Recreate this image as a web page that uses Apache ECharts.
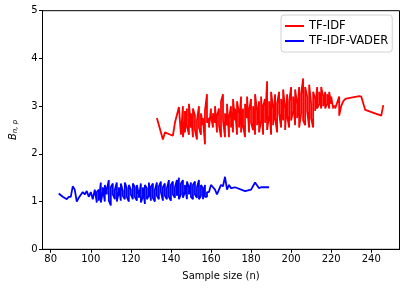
<!DOCTYPE html>
<html>
<head>
<meta charset="utf-8">
<script src="https://cdn.jsdelivr.net/npm/echarts@6/dist/echarts.min.js"></script>
<style>html,body{margin:0;padding:0;background:#fff;}#c{width:407px;height:290px;}</style>
</head>
<body>
<div id="c"></div>
<script>
const xTicks = [80, 100, 120, 140, 160, 180, 200, 220, 240];
const yTicks = [0, 1, 2, 3, 4, 5];
const seriesNames = ['TF-IDF', 'TF-IDF-VADER'];
const redPoints = [
[133,2.75],[136,2.30],[137,2.45],[141,2.38],[142,2.65],[144,2.98],[145,2.40],
[146,3.00],[146,2.35],[147,2.70],[147,2.90],[147,2.45],[148,2.95],[148,2.60],[149,2.40],[149,3.05],
[150,2.55],[150,2.85],[151,2.35],[151,2.95],[152,2.80],[152,2.50],[153,2.30],[153,2.70],
[154,3.00],[154,2.55],[155,2.40],[155,2.85],[156,2.60],[156,2.75],[157,2.20],[157,2.90],
[158,3.25],[158,2.65],[159,2.75],[159,2.55],[160,2.95],[160,2.70],[160,2.80],[161,2.55],[161,2.85],
[162,2.65],[162,3.00],[163,2.45],[163,2.80],[164,2.95],[164,2.60],[165,2.35],[165,3.10],
[166,3.25],[166,2.70],[167,2.35],[167,2.85],[168,2.60],[168,3.05],[169,2.35],[169,2.75],
[170,3.00],[170,2.55],[170,2.90],[171,2.45],[171,3.15],[172,2.70],[172,2.95],[173,2.40],[173,3.10],
[174,2.85],[174,2.55],[175,3.20],[175,2.45],[176,2.95],[176,2.60],[177,2.35],[177,3.05],
[178,2.75],[178,3.20],[179,2.45],[179,2.90],[180,3.15],[180,2.65],[181,2.50],[181,3.00],
[182,2.40],[182,3.25],[183,2.90],[183,2.60],[184,3.10],[184,2.45],[185,2.70],[185,3.20],
[186,2.40],[186,3.00],[187,3.15],[187,2.65],[188,3.52],[188,2.50],[189,2.80],[189,3.10],
[190,2.40],[190,3.30],[191,2.95],[191,2.60],[192,3.25],[192,2.75],[193,2.45],[193,3.05],
[194,3.30],[194,2.85],[195,2.55],[195,3.15],[196,2.70],[196,3.35],[197,2.95],[197,2.50],
[198,3.25],[198,2.80],[199,2.55],[199,3.10],[200,3.40],[200,2.70],[201,2.90],[201,3.20],
[202,2.60],[202,3.35],[203,3.05],[203,2.75],[204,3.40],[204,2.55],[205,2.85],[205,3.25],
[206,3.58],[206,2.70],[207,2.60],[207,3.40],[208,3.20],[208,2.90],[209,2.55],[209,3.45],
[210,3.05],[210,2.75],[211,2.55],[211,3.30],[212,3.15],[212,2.90],[213,3.40],[213,2.95],
[214,3.05],[214,3.30],[215,2.95],[215,3.40],[216,3.20],[216,3.00],[217,3.30],[217,2.95],
[218,3.05],[218,3.25],[219,2.95],[219,3.30],[220,3.05],[220,3.20],[221,2.95],[221,3.00],
[222,3.00],[222,2.95],[224,3.20],[224,2.80],
[225,3.00],[226,3.10],[227,3.15],[230,3.18],[234,3.21],[235,3.20],[237,2.92],[245,2.80],[246,3.02]
];
const bluePoints = [
[84,1.17],[86,1.10],[88,1.05],[89,1.10],[90,1.10],[91,1.32],[92,1.25],[93,1.00],[94,1.08],
[96,1.20],[97,1.15],[98,1.22],[99,1.10],[100,1.20],[101,1.05],[102,1.25],
[103,0.98],[103,1.20],[104,1.25],[104,1.02],[105,1.40],[105,1.10],[105,0.98],[106,1.20],[106,1.30],
[107,1.00],[107,1.35],[108,1.15],[108,1.25],[109,1.45],[109,1.02],[110,0.92],[110,1.30],
[111,1.38],[111,1.15],[112,1.05],[112,1.25],[113,1.40],[113,1.00],[114,1.20],[114,1.30],
[115,1.02],[115,1.38],[116,1.22],[116,1.12],[117,1.05],[117,1.40],[118,1.28],[118,1.10],
[119,1.00],[119,1.35],[120,1.25],[120,1.15],[121,1.05],[121,1.38],[122,1.30],[122,1.10],
[123,1.02],[123,1.25],[123,1.35],[124,1.15],[124,1.08],[125,1.38],[125,0.98],[126,1.10],[126,1.30],
[127,0.95],[127,1.35],[128,1.28],[128,1.05],[129,1.12],[129,1.40],[130,1.02],[130,1.30],
[131,1.38],[131,1.08],[132,1.00],[132,1.25],[133,1.40],[133,1.12],[134,1.05],[134,1.32],
[135,1.42],[135,1.20],[136,1.02],[136,1.30],[137,1.38],[137,1.12],[138,1.05],[138,1.28],
[139,1.45],[139,1.10],[140,1.02],[140,1.35],[141,1.42],[141,1.15],[142,1.08],[142,1.30],
[143,1.45],[143,1.12],[144,1.50],[144,1.05],[145,1.15],[145,1.38],[146,1.45],[146,1.08],
[147,1.20],[147,1.35],[148,1.05],[148,1.42],[149,1.30],[149,1.15],[150,1.40],[150,1.10],
[151,1.05],[151,1.35],[152,1.42],[152,1.15],[153,1.08],[153,1.30],[154,1.45],[154,1.05],
[155,1.12],[155,1.35],[156,1.28],[156,1.05],[157,1.35],[157,1.10],[158,1.10],[158,1.20],
[159,1.20],[160,1.35],[161,1.30],[162,1.25],[163,1.15],[165,1.35],[166,1.32],[167,1.52],
[168,1.25],[169,1.35],[170,1.28],[172,1.30],[177,1.22],[180,1.25],[182,1.40],[184,1.28],
[185,1.30],[189,1.30]
];

const font = 'DejaVu Sans';
const chart = echarts.init(document.getElementById('c'), null, {renderer: 'canvas'});
chart.setOption({
  animation: false,
  backgroundColor: '#fff',
  grid: {left: 39.5, right: 7.5, top: 10.7, bottom: 40.7, show: true, borderColor: '#000', borderWidth: 1, backgroundColor: 'transparent'},
  legend: {
    left: 281, top: 15, orient: 'vertical',
    data: seriesNames,
    icon: 'rect', itemWidth: 19, itemHeight: 2, itemGap: 3,
    padding: [5, 4, 5, 4],
    borderColor: '#d0d0d0', borderWidth: 1, borderRadius: 3,
    backgroundColor: 'rgba(255,255,255,0.8)',
    textStyle: {fontFamily: font, fontSize: 11.5, color: '#000'}
  },
  xAxis: {
    type: 'value', min: 75.9, max: 254.1,
    name: 'Sample size (n)', nameLocation: 'middle', nameGap: 22,
    nameTextStyle: {fontFamily: font, fontSize: 10, color: '#000'},
    axisLine: {show: true, onZero: false, lineStyle: {color: '#000', width: 1}},
    axisTick: {show: true, inside: false, length: 3.5, lineStyle: {color: '#000'}, customValues: xTicks},
    axisLabel: {fontFamily: font, fontSize: 10, color: '#000', margin: 5, customValues: xTicks},
    splitLine: {show: false}
  },
  yAxis: {
    type: 'value', min: 0, max: 5, interval: 1,
    name: '{b|B}{s|n, p}', nameLocation: 'middle', nameGap: 24, nameRotate: 90,
    nameTextStyle: {rich: {
      b: {fontFamily: font, fontSize: 10, fontStyle: 'italic', color: '#000'},
      s: {fontFamily: font, fontSize: 7, fontStyle: 'italic', color: '#000', verticalAlign: 'bottom', padding: [4, 0, 0, 0]}
    }},
    axisLine: {show: true, onZero: false, lineStyle: {color: '#000', width: 1}},
    axisTick: {show: true, inside: false, length: 3.5, lineStyle: {color: '#000'}},
    axisLabel: {fontFamily: font, fontSize: 10, color: '#000', margin: 5,
      formatter: v => yTicks.includes(v) ? String(v) : ''},
    splitLine: {show: false}
  },
  series: [
    {name: seriesNames[0], type: 'line', data: redPoints, symbol: 'none', color: '#ff0000',
     lineStyle: {color: '#ff0000', width: 1.8}},
    {name: seriesNames[1], type: 'line', data: bluePoints, symbol: 'none', color: '#0000ff',
     lineStyle: {color: '#0000ff', width: 1.8}}
  ]
});
</script>
</body>
</html>
